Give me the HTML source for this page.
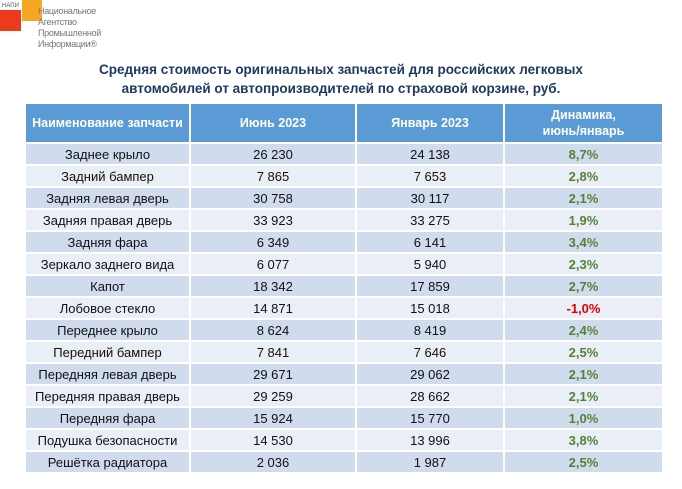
<!DOCTYPE html>
<html><head><meta charset="utf-8"><style>
body{margin:0;width:682px;height:489px;background:#fff;position:relative;font-family:"Liberation Sans","DejaVu Sans",sans-serif;overflow:hidden}
.t{position:absolute;left:0;width:682px;top:60px;text-align:center;font-weight:bold;color:#1f3864;font-size:13.5px;line-height:19px}
table{position:absolute;left:24px;top:102px;border-collapse:collapse;width:638px;table-layout:fixed}
td,th{border:2px solid #fff;padding:0;text-align:center;font-size:13px;color:#111}
th{background:#5b9bd5;color:#fff;font-size:12.5px;height:38px;line-height:16px}
tr:nth-child(even) td{background:#d0dbee}
tr:nth-child(odd) td{background:#e9eef7}
td{height:20px}
.g{color:#548235;font-weight:bold}
.r{color:#e00000;font-weight:bold}
</style></head><body>
<div style="position:absolute;left:0;top:10px;width:21px;height:21px;background:#ec3b1a"></div>
<div style="position:absolute;left:22px;top:0;width:20px;height:21px;background:#f5a623"></div>
<div style="position:absolute;left:2px;top:3px;font-size:6px;color:#555">НАПИ</div>
<div style="position:absolute;left:38px;top:6px;font-size:9px;line-height:11px;color:#777;letter-spacing:-0.3px">Национальное<br>Агентство<br>Промышленной<br>Информации®</div>
<div class="t">Средняя стоимость оригинальных запчастей для российских легковых<br>автомобилей от автопроизводителей по страховой корзине, руб.</div>
<table>
<colgroup><col style="width:165px"><col style="width:166px"><col style="width:148px"><col style="width:159px"></colgroup>
<tr><th>Наименование запчасти</th><th>Июнь 2023</th><th>Январь 2023</th><th>Динамика,<br>июнь/январь</th></tr>
<tr><td>Заднее крыло</td><td>26 230</td><td>24 138</td><td class="g">8,7%</td></tr>
<tr><td>Задний бампер</td><td>7 865</td><td>7 653</td><td class="g">2,8%</td></tr>
<tr><td>Задняя левая дверь</td><td>30 758</td><td>30 117</td><td class="g">2,1%</td></tr>
<tr><td>Задняя правая дверь</td><td>33 923</td><td>33 275</td><td class="g">1,9%</td></tr>
<tr><td>Задняя фара</td><td>6 349</td><td>6 141</td><td class="g">3,4%</td></tr>
<tr><td>Зеркало заднего вида</td><td>6 077</td><td>5 940</td><td class="g">2,3%</td></tr>
<tr><td>Капот</td><td>18 342</td><td>17 859</td><td class="g">2,7%</td></tr>
<tr><td>Лобовое стекло</td><td>14 871</td><td>15 018</td><td class="r">-1,0%</td></tr>
<tr><td>Переднее крыло</td><td>8 624</td><td>8 419</td><td class="g">2,4%</td></tr>
<tr><td>Передний бампер</td><td>7 841</td><td>7 646</td><td class="g">2,5%</td></tr>
<tr><td>Передняя левая дверь</td><td>29 671</td><td>29 062</td><td class="g">2,1%</td></tr>
<tr><td>Передняя правая дверь</td><td>29 259</td><td>28 662</td><td class="g">2,1%</td></tr>
<tr><td>Передняя фара</td><td>15 924</td><td>15 770</td><td class="g">1,0%</td></tr>
<tr><td>Подушка безопасности</td><td>14 530</td><td>13 996</td><td class="g">3,8%</td></tr>
<tr><td>Решётка радиатора</td><td>2 036</td><td>1 987</td><td class="g">2,5%</td></tr>
</table>
</body></html>
